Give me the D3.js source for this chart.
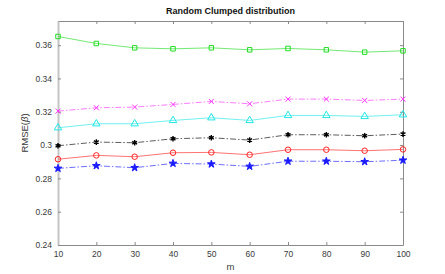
<!DOCTYPE html>
<html>
<head>
<meta charset="utf-8">
<script src="https://cdn.jsdelivr.net/npm/d3@7"></script>
<style>
  body { margin: 0; background: #fff; }
  svg { display: block; font-family: "Liberation Sans", Arial, sans-serif; }
</style>
</head>
<body>
<div id="chart"></div>
<script>
// ── Data ────────────────────────────────────────────────────────────────────
const mValues = [10, 20, 30, 40, 50, 60, 70, 80, 90, 100];
const yTicks  = [0.24, 0.26, 0.28, 0.30, 0.32, 0.34, 0.36];

const greenSquare  = [0.3652, 0.3610, 0.3584, 0.3578, 0.3584, 0.3572, 0.3580, 0.3572, 0.3558, 0.3566];
const magentaCross = [0.3204, 0.3224, 0.3228, 0.3244, 0.3262, 0.3248, 0.3276, 0.3276, 0.3268, 0.3276];
const cyanTri      = [0.3104, 0.3128, 0.3128, 0.3148, 0.3164, 0.3148, 0.3178, 0.3178, 0.3172, 0.3182];
const blackStar    = [0.2996, 0.3018, 0.3014, 0.3038, 0.3044, 0.3030, 0.3062, 0.3062, 0.3056, 0.3066];
const redCircle    = [0.2915, 0.2938, 0.2930, 0.2954, 0.2956, 0.2942, 0.2972, 0.2972, 0.2966, 0.2974];
const bluePenta    = [0.2860, 0.2876, 0.2864, 0.2890, 0.2886, 0.2872, 0.2903, 0.2903, 0.2900, 0.2909];

// Series styling: colour, line dash and marker shape.
const series = [
  { vals: greenSquare,  color: '#22dd22', dash: null,        marker: 'square' },
  { vals: magentaCross, color: '#ff33ff', dash: '6,2,1.5,2', marker: 'cross' },
  { vals: cyanTri,      color: '#22e6e6', dash: null,        marker: 'triangle' },
  { vals: blackStar,    color: '#000000', dash: '6,2,1.5,2', marker: 'asterisk' },
  { vals: redCircle,    color: '#ff2222', dash: null,        marker: 'circle' },
  { vals: bluePenta,    color: '#1a1aff', dash: '6,2,1.5,2', marker: 'star' }
];

// ── Layout ──────────────────────────────────────────────────────────────────
const Wt = 445, Ht = 274;
const margin = { top: 21, right: 42, bottom: 29, left: 58 };
const W = Wt - margin.left - margin.right;
const H = Ht - margin.top - margin.bottom;

const svg = d3.select('#chart').append('svg').attr('width', Wt).attr('height', Ht);
const g = svg.append('g').attr('transform', `translate(${margin.left},${margin.top})`);

const x = d3.scaleLinear().domain([10, 100]).range([0, W]);
const y = d3.scaleLinear().domain([0.24, 0.3745]).range([H, 0]);

const fmtY = d => d3.format('.2f')(d).replace(/0$/, '');

// Axes: ticks pointing inward, MATLAB-ish
const tickCol = '#3a3a3a';
const axisCol = '#8a8a8a';
const xAxis = g.append('g').attr('transform', `translate(0,${H})`)
  .call(d3.axisBottom(x).tickValues(mValues).tickSizeInner(-3).tickSizeOuter(0).tickPadding(6));
const xTop = g.append('g')
  .call(d3.axisTop(x).tickValues(mValues).tickSizeInner(-3).tickSizeOuter(0).tickFormat(''));
const yAxis = g.append('g')
  .call(d3.axisLeft(y).tickValues(yTicks).tickSizeInner(-3).tickSizeOuter(0).tickPadding(6).tickFormat(fmtY));
const yRight = g.append('g').attr('transform', `translate(${W},0)`)
  .call(d3.axisRight(y).tickValues(yTicks).tickSizeInner(-3).tickSizeOuter(0).tickFormat(''));

[xAxis, xTop, yAxis, yRight].forEach(a => {
  a.select('.domain').attr('stroke', axisCol).attr('stroke-width', 1);
  a.selectAll('.tick line').attr('stroke', axisCol);
  a.selectAll('.tick text').attr('fill', tickCol).attr('font-size', 8.5);
});
// left spine drawn a bit heavier/lighter like the original
yAxis.select('.domain').attr('stroke', '#c4c4c4').attr('stroke-width', 2);

// Title and labels
svg.append('text')
  .attr('x', margin.left + W / 2).attr('y', 14)
  .attr('text-anchor', 'middle').attr('font-size', 9).attr('font-weight', 'bold').attr('fill', '#111')
  .text('Random Clumped distribution');
g.append('text')
  .attr('x', W / 2).attr('y', H + 25)
  .attr('text-anchor', 'middle').attr('font-size', 9.5).attr('fill', '#3a3a3a')
  .text('m');
const yl = g.append('text')
  .attr('transform', `translate(-30,${H / 2}) rotate(-90)`)
  .attr('text-anchor', 'middle').attr('font-size', 9.5).attr('fill', '#3a3a3a');
yl.append('tspan').text('RMSE(');
yl.append('tspan').attr('font-style', 'italic').text('β');
yl.append('tspan').text(')');

// ── Lines + markers ─────────────────────────────────────────────────────────
const line = d3.line().x((d, i) => x(mValues[i])).y(d => y(d));

const sym = {
  square:   d3.symbol().type(d3.symbolSquare).size(20),
  triangle: d3.symbol().type(d3.symbolTriangle).size(24),
  circle:   d3.symbol().type(d3.symbolCircle).size(24),
  star:     d3.symbol().type(d3.symbolStar).size(18),
  cross:    d3.symbol().type(d3.symbolX).size(18),
  asterisk: d3.symbol().type(d3.symbolAsterisk).size(22)
};

series.forEach(s => {
  g.append('path').datum(s.vals)
    .attr('fill', 'none').attr('stroke', s.color).attr('stroke-width', 0.8)
    .attr('stroke-dasharray', s.dash).attr('stroke-opacity', 0.8)
    .attr('d', line);

  const filled = s.marker === 'star' || s.marker === 'asterisk';
  g.selectAll(null).data(s.vals).enter().append('path')
    .attr('transform', (d, i) => `translate(${x(mValues[i])},${y(d)})`)
    .attr('d', sym[s.marker]())
    .attr('fill', filled ? s.color : 'none')
    .attr('stroke', s.color)
    .attr('stroke-width', s.marker === 'asterisk' ? 1.4 : 1);
});
</script>
</body>
</html>
